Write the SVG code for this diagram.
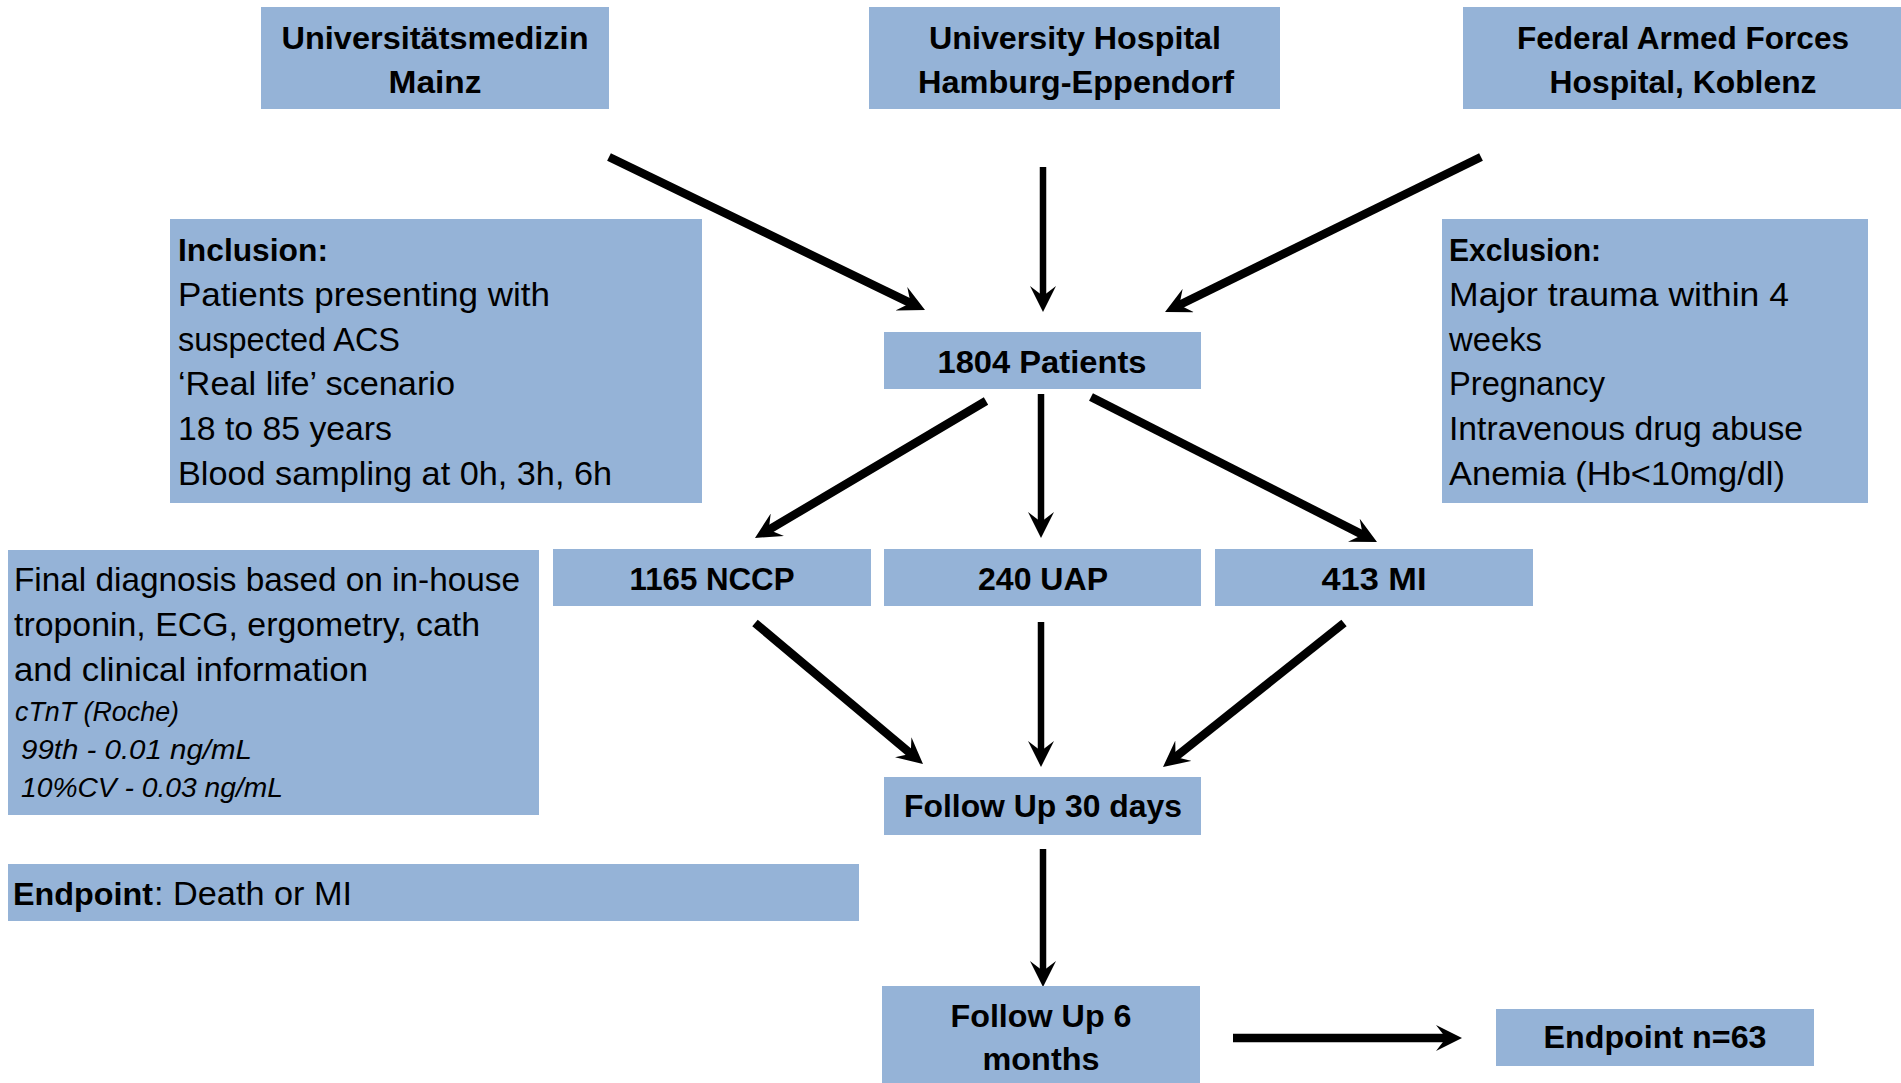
<svg xmlns="http://www.w3.org/2000/svg" width="1901" height="1083" viewBox="0 0 1901 1083">
<style>
.box{fill:#95B3D7;}
.b{font-family:"Liberation Sans",Arial,sans-serif;font-weight:bold;font-size:32px;fill:#000;}
.r{font-family:"Liberation Sans",Arial,sans-serif;font-size:34px;fill:#000;}
.i{font-family:"Liberation Sans",Arial,sans-serif;font-style:italic;font-size:27px;fill:#000;}
.c{text-anchor:middle;}
.ln{stroke:#000;fill:none;stroke-linecap:butt;}
.thin{stroke-width:6.5;}
.thick{stroke-width:8.5;}
</style>
<defs>
<marker id="ah" markerUnits="userSpaceOnUse" markerWidth="26" markerHeight="26" viewBox="0 0 26 26" refX="14" refY="13" orient="auto">
<path d="M0,0 L26,13 L0,26 L10,13 Z" fill="#000"/>
</marker>
</defs>
<rect width="1901" height="1083" fill="#fff"/>

<g id="connectors">
<line class="ln thick" x1="609" y1="157" x2="914.2" y2="304.8" marker-end="url(#ah)"/>
<line class="ln thin" x1="1043" y1="167" x2="1043" y2="300" marker-end="url(#ah)"/>
<line class="ln thick" x1="1481" y1="157" x2="1175.8" y2="306.7" marker-end="url(#ah)"/>
<line class="ln thick" x1="986" y1="401" x2="765.3" y2="531.9" marker-end="url(#ah)"/>
<line class="ln thin" x1="1041" y1="394" x2="1041" y2="526" marker-end="url(#ah)"/>
<line class="ln thick" x1="1091" y1="397" x2="1366.3" y2="536.6" marker-end="url(#ah)"/>
<line class="ln thick" x1="755" y1="623" x2="913.8" y2="756.3" marker-end="url(#ah)"/>
<line class="ln thin" x1="1041" y1="622" x2="1041" y2="755" marker-end="url(#ah)"/>
<line class="ln thick" x1="1344" y1="623" x2="1172.4" y2="759.5" marker-end="url(#ah)"/>
<line class="ln thin" x1="1043" y1="849" x2="1043" y2="975" marker-end="url(#ah)"/>
<line class="ln thick" x1="1233" y1="1038" x2="1450" y2="1038" marker-end="url(#ah)"/>
</g>

<g id="mainz">
<rect class="box" x="261" y="7" width="348" height="102"/>
<text class="b c" x="435" y="49" textLength="307" lengthAdjust="spacingAndGlyphs">Universitätsmedizin</text>
<text class="b c" x="435" y="93" textLength="93" lengthAdjust="spacingAndGlyphs">Mainz</text>
</g>

<g id="hamburg">
<rect class="box" x="869" y="7" width="411" height="102"/>
<text class="b c" x="1075" y="49" textLength="292" lengthAdjust="spacingAndGlyphs">University Hospital</text>
<text class="b c" x="1076" y="93" textLength="316" lengthAdjust="spacingAndGlyphs">Hamburg-Eppendorf</text>
</g>

<g id="koblenz">
<rect class="box" x="1463" y="7" width="438" height="102"/>
<text class="b c" x="1683" y="49" textLength="332" lengthAdjust="spacingAndGlyphs">Federal Armed Forces</text>
<text class="b c" x="1683" y="93" textLength="267" lengthAdjust="spacingAndGlyphs">Hospital, Koblenz</text>
</g>

<g id="inclusion">
<rect class="box" x="170" y="219" width="532" height="284"/>
<text class="b" x="178" y="261" textLength="150" lengthAdjust="spacingAndGlyphs">Inclusion:</text>
<text class="r" x="178" y="306" textLength="372" lengthAdjust="spacingAndGlyphs">Patients presenting with</text>
<text class="r" x="178" y="351" textLength="222" lengthAdjust="spacingAndGlyphs">suspected ACS</text>
<text class="r" x="178" y="395" textLength="277" lengthAdjust="spacingAndGlyphs">‘Real life’ scenario</text>
<text class="r" x="178" y="440" textLength="214" lengthAdjust="spacingAndGlyphs">18 to 85 years</text>
<text class="r" x="178" y="485" textLength="434" lengthAdjust="spacingAndGlyphs">Blood sampling at 0h, 3h, 6h</text>
</g>

<g id="exclusion">
<rect class="box" x="1442" y="219" width="426" height="284"/>
<text class="b" x="1449" y="261" textLength="152" lengthAdjust="spacingAndGlyphs">Exclusion:</text>
<text class="r" x="1449" y="306" textLength="340" lengthAdjust="spacingAndGlyphs">Major trauma within 4</text>
<text class="r" x="1449" y="351" textLength="93" lengthAdjust="spacingAndGlyphs">weeks</text>
<text class="r" x="1449" y="395" textLength="156" lengthAdjust="spacingAndGlyphs">Pregnancy</text>
<text class="r" x="1449" y="440" textLength="354" lengthAdjust="spacingAndGlyphs">Intravenous drug abuse</text>
<text class="r" x="1449" y="485" textLength="336" lengthAdjust="spacingAndGlyphs">Anemia (Hb&lt;10mg/dl)</text>
</g>

<g id="patients">
<rect class="box" x="884" y="332" width="317" height="57"/>
<text class="b c" x="1042" y="373" textLength="209" lengthAdjust="spacingAndGlyphs">1804 Patients</text>
</g>

<g id="final-diagnosis">
<rect class="box" x="8" y="550" width="531" height="265"/>
<text class="r" x="14" y="591" textLength="506" lengthAdjust="spacingAndGlyphs">Final diagnosis based on in-house</text>
<text class="r" x="14" y="636" textLength="466" lengthAdjust="spacingAndGlyphs">troponin, ECG, ergometry, cath</text>
<text class="r" x="14" y="681" textLength="354" lengthAdjust="spacingAndGlyphs">and clinical information</text>
<text class="i" x="15" y="721" textLength="164" lengthAdjust="spacingAndGlyphs">cTnT (Roche)</text>
<text class="i" x="21" y="759" textLength="231" lengthAdjust="spacingAndGlyphs">99th - 0.01 ng/mL</text>
<text class="i" x="21" y="797" textLength="262" lengthAdjust="spacingAndGlyphs">10%CV - 0.03 ng/mL</text>
</g>

<g id="nccp">
<rect class="box" x="553" y="549" width="318" height="57"/>
<text class="b c" x="712" y="590" textLength="165" lengthAdjust="spacingAndGlyphs">1165 NCCP</text>
</g>

<g id="uap">
<rect class="box" x="884" y="549" width="317" height="57"/>
<text class="b c" x="1043" y="590" textLength="130" lengthAdjust="spacingAndGlyphs">240 UAP</text>
</g>

<g id="mi">
<rect class="box" x="1215" y="549" width="318" height="57"/>
<text class="b c" x="1374" y="590" textLength="105" lengthAdjust="spacingAndGlyphs">413 MI</text>
</g>

<g id="followup30">
<rect class="box" x="884" y="777" width="317" height="58"/>
<text class="b c" x="1043" y="817" textLength="278" lengthAdjust="spacingAndGlyphs">Follow Up 30 days</text>
</g>

<g id="endpoint-def">
<rect class="box" x="8" y="864" width="851" height="57"/>
<text class="b" x="13" y="905" textLength="140" lengthAdjust="spacingAndGlyphs">Endpoint</text>
<text class="r" x="154" y="905" textLength="198" lengthAdjust="spacingAndGlyphs">: Death or MI</text>
</g>

<g id="followup6">
<rect class="box" x="882" y="986" width="318" height="97"/>
<text class="b c" x="1041" y="1027" textLength="181" lengthAdjust="spacingAndGlyphs">Follow Up 6</text>
<text class="b c" x="1041" y="1070" textLength="117" lengthAdjust="spacingAndGlyphs">months</text>
</g>

<g id="endpoint-n">
<rect class="box" x="1496" y="1009" width="318" height="57"/>
<text class="b c" x="1655" y="1048" textLength="223" lengthAdjust="spacingAndGlyphs">Endpoint n=63</text>
</g>
</svg>
